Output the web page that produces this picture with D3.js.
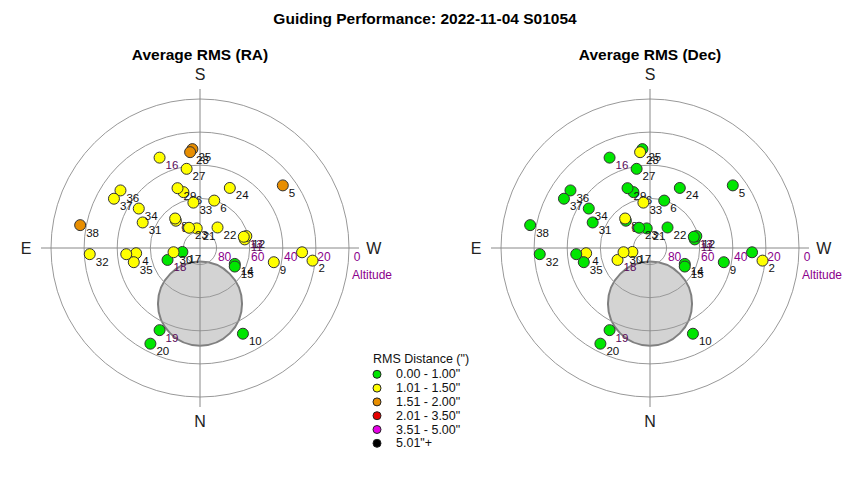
<!DOCTYPE html>
<html>
<head>
<meta charset="utf-8">
<script src="https://cdn.jsdelivr.net/npm/d3@7"></script>
<style>
  body { margin: 0; background: #fff; }
  svg { font-family: "Liberation Sans", Arial, sans-serif; }
</style>
</head>
<body>
<div id="chart"></div>
<script>
// guide star positions (altitude / azimuth, degrees) and average RMS per exposure
const pointIds  = [1, 2, 3, 4, 5, 6, 7, 8, 9, 10, 11, 12, 13, 14, 15, 16, 17, 18, 19,
                   20, 21, 22, 23, 24, 25, 26, 27, 28, 29, 30, 31, 32, 33, 34, 35, 36, 37, 38];
const altitudes = [28.3, 21.6, 68.0, 51.3, 27.3, 60.1, 45.3, 66.7, 44.6, 32.1, 62.5, 61.1, 62.7,
                   66.9, 66.2, 30.2, 79.1, 69.1, 34.7, 24.9, 78.0, 73.7, 76.1, 49.5, 30.1, 54.8,
                   41.5, 31.8, 51.4, 73.8, 52.1, 23.3, 62.3, 46.0, 49.1, 30.7, 30.1, 16.3];
const azimuths  = [272.4, 276.4, 138.5, 85.3, 232.9, 196.7, 85.2, 139.9, 280.9, 333.4, 259.1,
                   255.6, 255.6, 294.6, 298.1, 155.9, 77.3, 69.8, 26.2, 27.4, 170.5, 220.5,
                   151.5, 206.4, 175.6, 163.5, 170.4, 174.1, 159.4, 80.9, 114.0, 86.8, 171.7,
                   122.8, 77.9, 125.9, 119.8, 100.8];
const rmsRA     = [1.21, 1.34, 1.18, 1.27, 1.68, 1.12, 1.25, 1.19, 1.31, 0.86, 1.14, 1.16, 1.22,
                   0.91, 0.88, 1.29, 0.95, 0.93, 0.84, 0.79, 1.08, 1.11, 1.13, 1.24, 1.72, 1.17,
                   1.26, 1.64, 1.20, 1.09, 1.23, 1.36, 1.15, 1.28, 1.33, 1.38, 1.41, 1.57];
const rmsDec    = [0.72, 1.12, 0.81, 1.06, 0.77, 0.69, 0.84, 1.04, 0.73, 0.66, 0.78, 0.75, 0.80,
                   0.62, 0.64, 0.71, 1.03, 1.08, 0.58, 0.61, 0.83, 0.76, 0.87, 0.70, 0.92, 0.89,
                   0.94, 1.07, 0.85, 1.05, 0.74, 0.68, 1.11, 0.79, 0.82, 0.77, 0.73, 0.65];
const flaggedIds = [11, 13, 16, 18, 19];

// region around the celestial pole that is not usable for guiding
const poleAlt = 56.4;
const poleAz = 0;
const poleRadiusDeg = 25.4;

const binUpper  = [1.00, 1.50, 2.00, 3.50, 5.00, Infinity];
const binLabels = ['0.00 - 1.00"', '1.01 - 1.50"', '1.51 - 2.00"', '2.01 - 3.50"', '3.51 - 5.00"', '5.01"+'];
const binColors = ['#00e600', '#ffff00', '#e88e00', '#e60000', '#e600e6', '#000000'];

const altTicks = [0, 20, 40, 60, 80];
const compass = [{t: 'N', az: 0}, {t: 'E', az: 90}, {t: 'S', az: 180}, {t: 'W', az: 270}];

const width = 850, height = 480;
const R = 149;

const svg = d3.select('#chart').append('svg')
  .attr('width', width)
  .attr('height', height);

svg.append('text')
  .attr('x', 425).attr('y', 24)
  .attr('text-anchor', 'middle')
  .attr('font-size', 15.5).attr('font-weight', 'bold')
  .text('Guiding Performance: 2022-11-04 S01054');

const rScale = d3.scaleLinear().domain([90, 0]).range([0, R]);
const colorOf = d3.scaleThreshold()
  .domain(binUpper.slice(0, -1).map(v => v + 0.005))
  .range(binColors);

const project = (alt, az) => {
  const r = rScale(alt), a = az * Math.PI / 180;
  return [-r * Math.sin(a), r * Math.cos(a)];
};

const skyPlot = (cx, title, values) => {
  const g = svg.append('g').attr('transform', `translate(${cx}, 248)`);

  svg.append('text')
    .attr('x', cx).attr('y', 60)
    .attr('text-anchor', 'middle')
    .attr('font-size', 15.5).attr('font-weight', 'bold')
    .text(title);

  const [px, py] = project(poleAlt, poleAz);
  g.append('circle')
    .attr('cx', px).attr('cy', py)
    .attr('r', rScale(90 - poleRadiusDeg))
    .attr('fill', '#d3d3d3')
    .attr('stroke', '#808080')
    .attr('stroke-width', 2);

  g.selectAll('circle.ring')
    .data(altTicks)
    .join('circle')
    .attr('class', 'ring')
    .attr('r', d => rScale(d))
    .attr('fill', 'none')
    .attr('stroke', '#999')
    .attr('stroke-width', 1);

  g.append('line').attr('x1', -R - 10).attr('x2', R + 10)
    .attr('stroke', '#888');
  g.append('line').attr('y1', -R - 10).attr('y2', R + 10)
    .attr('stroke', '#888');

  g.selectAll('text.alt')
    .data(altTicks)
    .join('text')
    .attr('class', 'alt')
    .attr('x', d => rScale(d) + 8)
    .attr('y', 13)
    .attr('text-anchor', 'middle')
    .attr('font-size', 12)
    .attr('fill', '#8b008b')
    .text(d => d);

  g.append('text')
    .attr('x', R + 3).attr('y', 31)
    .attr('font-size', 12)
    .attr('fill', '#8b008b')
    .text('Altitude');

  g.selectAll('text.dir')
    .data(compass)
    .join('text')
    .attr('class', 'dir')
    .attr('x', d => project(-15, d.az)[0])
    .attr('y', d => project(-15, d.az)[1])
    .attr('text-anchor', 'middle')
    .attr('dominant-baseline', 'central')
    .attr('font-size', 16)
    .attr('fill', '#222')
    .text(d => d.t);

  const pts = pointIds.map((id, i) => {
    const [x, y] = project(altitudes[i], azimuths[i]);
    return {id, x, y, v: values[i]};
  });

  const mark = g.selectAll('g.pt')
    .data(pts)
    .join('g')
    .attr('class', 'pt')
    .attr('transform', d => `translate(${d.x}, ${d.y})`);

  mark.append('circle')
    .attr('r', 5.5)
    .attr('fill', d => colorOf(d.v))
    .attr('stroke', '#333')
    .attr('stroke-width', 1);

  mark.append('text')
    .attr('x', 6).attr('y', 11.5)
    .attr('font-size', 11.5)
    .attr('fill', d => flaggedIds.includes(d.id) ? '#5a0a5a' : '#111')
    .text(d => d.id);
};

skyPlot(200, 'Average RMS (RA)', rmsRA);
skyPlot(650, 'Average RMS (Dec)', rmsDec);

// legend
const legend = svg.append('g').attr('transform', 'translate(373, 0)');
legend.append('text')
  .attr('x', 0).attr('y', 363)
  .attr('font-size', 12.5)
  .attr('fill', '#111')
  .text('RMS Distance (")');

const item = legend.selectAll('g.item')
  .data(binLabels)
  .join('g')
  .attr('class', 'item')
  .attr('transform', (d, i) => `translate(4, ${374.3 + i * 13.8})`);

item.append('circle')
  .attr('r', 4)
  .attr('fill', (d, i) => binColors[i])
  .attr('stroke', '#222');

item.append('text')
  .attr('x', 19)
  .attr('dominant-baseline', 'central')
  .attr('font-size', 12.5)
  .attr('fill', '#111')
  .text(d => d);
</script>
</body>
</html>
